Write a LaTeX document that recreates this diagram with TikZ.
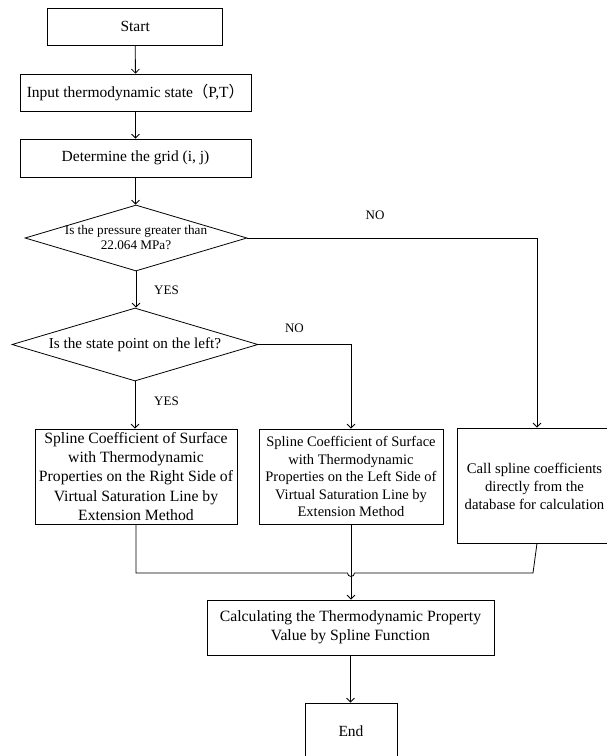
\documentclass[tikz,border=0pt]{standalone}
\usepackage{fontspec}
\setmainfont{Liberation Serif}
\newfontfamily\cjkfont{Noto Sans CJK SC}
\usetikzlibrary{shapes.geometric,arrows.meta}
\begin{document}
\begin{tikzpicture}[x=1pt,y=-1pt,
  line width=0.8pt,
  box/.style={draw, rectangle, inner sep=0pt, align=center, font=\fontsize{15.5}{19}\selectfont},
  dia/.style={draw, diamond, inner sep=0pt},
  lbl/.style={font=\fontsize{13}{15}\selectfont, inner sep=0pt},
  arr/.style={-{Straight Barb[length=4pt,width=8pt]}}]
\useasboundingbox (0,0) rectangle (607,756);
\begin{scope}
\clip (0,0) rectangle (607,756);
\node[box, minimum width=175pt, minimum height=37pt] (start) at (135.2,26.5) {Start};
\node[box, minimum width=231pt, minimum height=37pt] (input) at (135.5,92.5) {Input thermodynamic state{\cjkfont （}P,T{\cjkfont ）}};
\node[box, minimum width=231pt, minimum height=38pt] (grid) at (135.5,158) {Determine the grid (i, j)};
\node[dia, minimum width=222pt, minimum height=66pt] (d1) at (136,238) {};
\node[align=center, inner sep=0pt, font=\fontsize{13.2}{15}\selectfont] (d1t) at (d1.center) {Is the pressure greater than\\22.064 MPa?};
\node[dia, minimum width=246pt, minimum height=73pt] (d2) at (135,344.5) {};
\node[inner sep=0pt, font=\fontsize{15.2}{18}\selectfont] (d2t) at (d2.center) {Is the state point on the left?};
\node[box, minimum width=202pt, minimum height=95pt, font=\fontsize{15.7}{19.2}\selectfont] (lb) at (136,476.5) {Spline Coefficient of Surface\\with Thermodynamic\\Properties on the Right Side of\\Virtual Saturation Line by\\Extension Method};
\node[box, minimum width=184pt, minimum height=95pt, font=\fontsize{14.5}{17.5}\selectfont] (mb) at (351,476.5) {Spline Coefficient of Surface\\with Thermodynamic\\Properties on the Left Side of\\Virtual Saturation Line by\\Extension Method};
\node[box, minimum width=160pt, minimum height=115pt] (rb) at (537,485.5) {};
\node[align=center, inner sep=0pt, font=\fontsize{14.7}{18}\selectfont] (rbt) at (534.5,486) {Call spline coefficients\\directly from the\\database for calculation};
\node[box, minimum width=287pt, minimum height=55pt, font=\fontsize{15.7}{19}\selectfont] (calc) at (350.5,627.5) {Calculating the Thermodynamic Property\\Value by Spline Function};
\node[box, minimum width=92pt, minimum height=80pt] (end) at (351,743) {};
\node[inner sep=0pt, font=\fontsize{15.5}{19}\selectfont] (endt) at (351,731) {End};
\end{scope}
\coordinate (rturn) at (537,238);
\coordinate (mturn) at (351,344.5);
\coordinate (jl) at (136,573);
\coordinate (jh) at (347.5,573);
\coordinate (jr) at (533,573);
\draw[arr] (start) -- (input);
\draw[arr] (input) -- (grid);
\draw[arr] (grid) -- (grid.south |- d1.north);
\draw[arr] (d1.east) -- (rturn) -- (rb.north);
\draw[arr] (d1.south) -- (d1.south |- d2.north);
\draw[arr] (d2.east) -- (mturn) -- (mb.north);
\draw[arr] (d2.south) -- (d2.south |- lb.north);
\draw (lb.south) -- (jl) -- (jh) arc (180:0:3.5) -- (jr) -- (rb.south);
\draw[arr] (mb.south) -- (mb.south |- calc.north);
\draw[arr] (calc.south) -- (calc.south |- end.north);
\node[lbl] (no1) at (375,215) {NO};
\node[lbl] (yes1) at (166.5,290) {YES};
\node[lbl] (no2) at (294.5,328) {NO};
\node[lbl] (yes2) at (166.5,401) {YES};
\end{tikzpicture}
\end{document}
